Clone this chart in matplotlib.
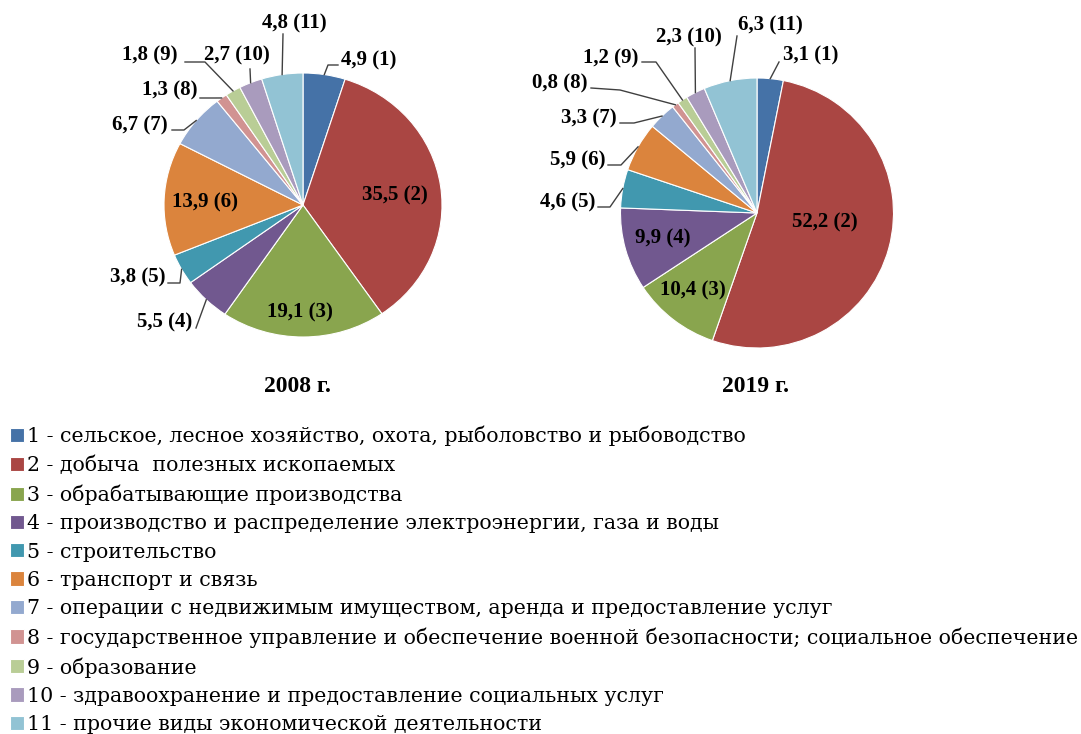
import numpy as np
import matplotlib.pyplot as plt

W, H = 1081, 734

categories = [
    '1 - сельское, лесное хозяйство, охота, рыболовство и рыбоводство',
    '2 - добыча  полезных ископаемых',
    '3 - обрабатывающие производства',
    '4 - производство и распределение электроэнергии, газа и воды',
    '5 - строительство',
    '6 - транспорт и связь',
    '7 - операции с недвижимым имуществом, аренда и предоставление услуг',
    '8 - государственное управление и обеспечение военной безопасности; социальное обеспечение',
    '9 - образование',
    '10 - здравоохранение и предоставление социальных услуг',
    '11 - прочие виды экономической деятельности',
]
shares_2008 = [4.9, 35.5, 19.1, 5.5, 3.8, 13.9, 6.7, 1.3, 1.8, 2.7, 4.8]
shares_2019 = [3.1, 52.2, 10.4, 9.9, 4.6, 5.9, 3.3, 0.8, 1.2, 2.3, 6.3]
years = ['2008 г.', '2019 г.']

colors = ['#4572A7', '#AA4643', '#89A54E', '#71588F', '#4198AF', '#DB843D',
          '#93A9CF', '#D19392', '#B9CD96', '#A99BBD', '#92C3D4']

# pie boxes in pixels: center x, center y, x radius, y radius
boxes = [(303, 205, 139, 132), (757, 213, 136.5, 135)]
title_pos = [(297, 387), (756, 387)]

# label layout in pixels: (text x, text y, ha, leader points before the wedge)
# leader None -> label sits inside the wedge
layout_2008 = [
    (341, 60, 'left', [(338, 65), (328, 65)]),
    (395, 195, 'center', None),
    (300, 312, 'center', None),
    (192, 322, 'right', [(196, 328)]),
    (165, 277, 'right', [(168, 283), (180, 283)]),
    (205, 202, 'center', None),
    (168, 125, 'right', [(172, 130), (184, 130)]),
    (197, 90, 'right', [(200, 98), (215, 98)]),
    (178, 55, 'right', [(185, 62), (205, 62)]),
    (237, 55, 'center', [(250, 69)]),
    (294, 23, 'center', [(283, 34)]),
]
layout_2019 = [
    (783, 55, 'left', [(779, 62)]),
    (825, 222, 'center', None),
    (693, 290, 'center', None),
    (663, 238, 'center', None),
    (595, 202, 'right', [(598, 207), (610, 207)]),
    (605, 160, 'right', [(608, 165), (621, 165)]),
    (617, 118, 'right', [(620, 123), (634, 123)]),
    (587, 83, 'right', [(591, 88), (620, 90)]),
    (638, 58, 'right', [(642, 62), (656, 62)]),
    (689, 37, 'center', [(695, 48)]),
    (770, 25, 'center', [(737, 36)]),
]

fig = plt.figure(figsize=(W / 100, H / 100), dpi=100)
over = fig.add_axes([0, 0, 1, 1], zorder=5)
over.set_xlim(0, W)
over.set_ylim(H, 0)
over.axis('off')

label_font = dict(family='Liberation Serif', weight='bold', fontsize=15)

for shares, box, layout, year, tpos in zip([shares_2008, shares_2019], boxes,
                                          [layout_2008, layout_2019], years, title_pos):
    cx, cy, rx, ry = box
    ax = fig.add_axes([(cx - rx) / W, (H - cy - ry) / H, 2 * rx / W, 2 * ry / H])
    wedges, _ = ax.pie(shares, colors=colors, startangle=90, counterclock=False,
                       wedgeprops=dict(edgecolor='white', linewidth=0.8))
    ax.set_aspect('auto')
    ax.set_xlim(-1, 1)
    ax.set_ylim(-1, 1)

    to_over = ax.transData + over.transData.inverted()
    for i, (w, v) in enumerate(zip(wedges, shares)):
        tx, ty, ha, leader = layout[i]
        txt = f'{v:.1f}'.replace('.', ',') + f' ({i + 1})'
        over.text(tx, ty, txt, ha=ha, va='center', **label_font)
        if leader is None:
            continue
        mid = np.deg2rad((w.theta1 + w.theta2) / 2)
        anchor = to_over.transform((np.cos(mid), np.sin(mid)))
        pts = np.array(leader + [tuple(anchor)])
        over.plot(pts[:, 0], pts[:, 1], color='#404040', lw=1)

    over.text(tpos[0], tpos[1], year, ha='center', va='center',
              family='Liberation Serif', weight='bold', fontsize=17)

    if year == years[0]:
        handles = wedges

fig.legend(handles, categories, loc='upper left', bbox_to_anchor=(10 / W, 1 - 426 / H),
           frameon=False, prop=dict(family='DejaVu Serif', size=14.8),
           handlelength=0.68, handleheight=0.68, handletextpad=0.15,
           labelspacing=0.45, borderpad=0, borderaxespad=0)

fig.savefig('out.png', dpi=100)
